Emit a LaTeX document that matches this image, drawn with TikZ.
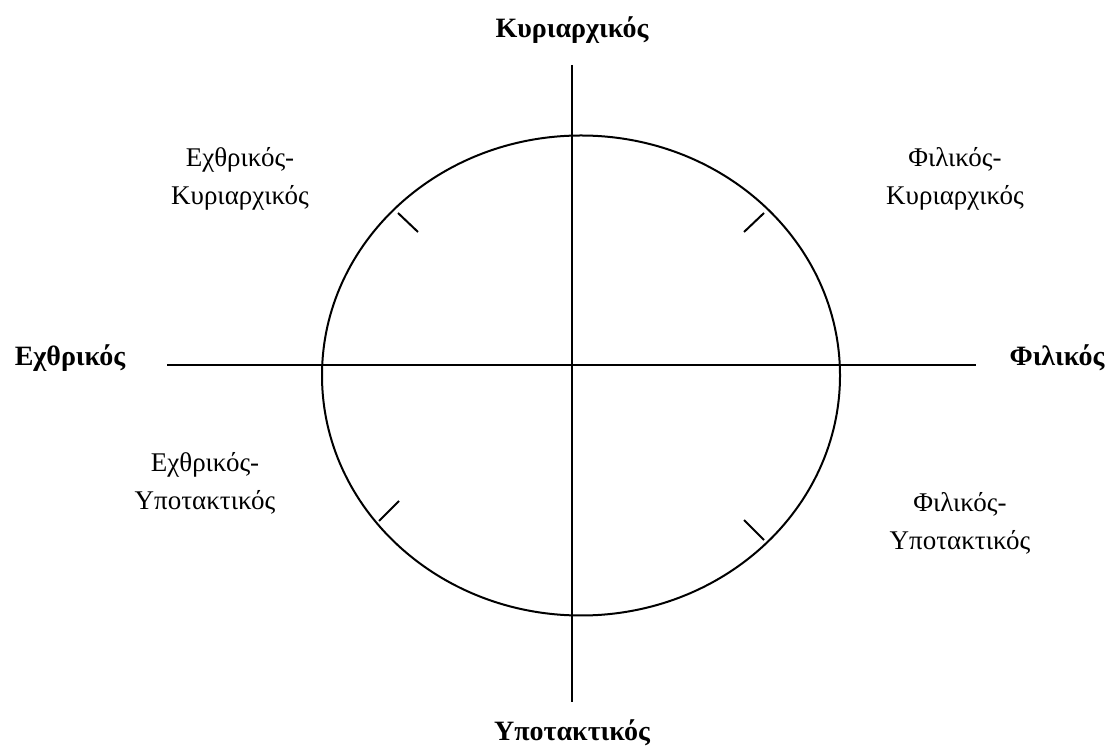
\documentclass[tikz,border=0pt]{standalone}
\usepackage{fontspec}
\setmainfont{Liberation Serif}
\usetikzlibrary{positioning}

\begin{document}
\begin{tikzpicture}[
    x=0.5pt, y=-0.5pt,
    axis/.style = {line width=1pt},
    ring/.style = {line width=1pt},
    tickline/.style = {line width=1pt},
    axislabel/.style = {font=\fontsize{14}{16}\selectfont\bfseries, align=center, inner sep=0pt},
    quadlabel/.style = {font=\fontsize{13.5}{19}\selectfont, align=center, inner sep=0pt}
]

\useasboundingbox (0,0) rectangle (1118,747);

% axes
\coordinate (north) at (572,65);
\coordinate (south) at (572,702);
\coordinate (west) at (167,365);
\coordinate (east) at (976,365);
\draw [axis] (north) -- (south);
\draw [axis] (west) -- (east);

% circle
\draw [ring] (581,375.5) ellipse [x radius=259, y radius=240];

% ticks
\draw [tickline] (398,213) -- (418,232);
\draw [tickline] (744,232) -- (764,213);
\draw [tickline] (379,521) -- (399,501);
\draw [tickline] (744,520) -- (764,540);

% axis labels
\node (dom) [axislabel] at (572,30) {Κυριαρχικός};
\node (sub) [axislabel] at (572,733) {Υποτακτικός};
\node (hos) [axislabel] at (70,358) {Εχθρικός};
\node (fri) [axislabel] at (1057,358) {Φιλικός};

% quadrant labels
\node (hosdom) [quadlabel] at (240,179) {Εχθρικός-\\Κυριαρχικός};
\node (fridom) [quadlabel] at (955,179) {Φιλικός-\\Κυριαρχικός};
\node (hossub) [quadlabel] at (205,483) {Εχθρικός-\\Υποτακτικός};
\node (frisub) [quadlabel] at (960,523) {Φιλικός-\\Υποτακτικός};

\end{tikzpicture}
\end{document}
